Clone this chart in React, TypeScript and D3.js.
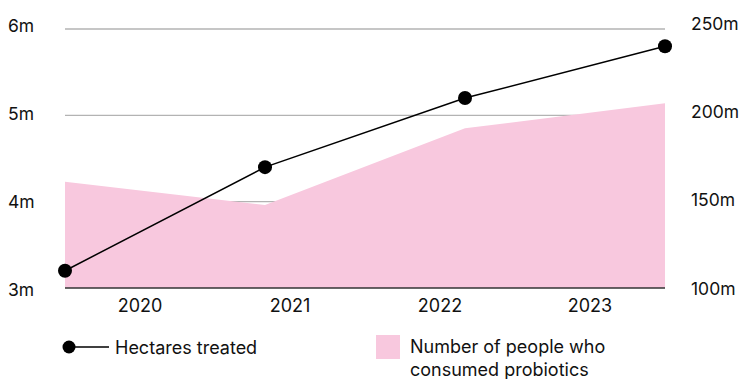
import React from "react";
import * as d3 from "d3";

const years = ["2020", "2021", "2022", "2023"];
const hectares = [3.2, 4.4, 5.2, 5.8]; // millions
const people = [161.5, 148, 192.5, 207]; // millions
const leftTicks = [3, 4, 5, 6];
const rightTicks = [100, 150, 200, 250];
const legendLine = "Hectares treated";
const legendArea = ["Number of people who", "consumed probiotics"];

const W = 741;
const H = 379;
const FONT = "Inter, 'Liberation Sans', Arial, sans-serif";
const PINK = "#f8c8de";

export default function App() {
  const x0 = 65, x1 = 665, yTop = 29, yBot = 288;
  const xPoint = d3.scalePoint<string>().domain(years).range([x0, x1]);
  const xBand = d3.scaleBand<string>().domain(years).range([x0, x1]);
  const yL = d3.scaleLinear().domain([3, 6]).range([yBot, yTop]);
  const yR = d3.scaleLinear().domain([100, 250]).range([yBot, yTop]);
  const yLLabel = d3.scaleLinear().domain([3, 6]).range([289, 25]);
  const yRLabel = d3.scaleLinear().domain([100, 250]).range([288, 23]);

  const area = d3
    .area<number>()
    .x((_, i) => xPoint(years[i])!)
    .y0(yBot)
    .y1((d) => yR(d));
  const line = d3
    .line<number>()
    .x((_, i) => xPoint(years[i])!)
    .y((d) => yL(d));

  return (
    <svg
      width={W}
      height={H}
      style={{ position: "absolute", left: 0, top: 0, display: "block" }}
      fontFamily={FONT}
    >
      <rect width={W} height={H} fill="#fff" />
      {leftTicks.slice(1).map((t) => (
        <line key={t} x1={x0} x2={x1} y1={yL(t)} y2={yL(t)} stroke="#b3b3b3" strokeWidth={1.3} />
      ))}
      <path d={area(people) ?? ""} fill={PINK} />
      <line x1={x0} x2={x1} y1={yBot} y2={yBot} stroke="#333" strokeWidth={1.5} />
      <path d={line(hectares) ?? ""} fill="none" stroke="#000" strokeWidth={1.5} />
      {hectares.map((v, i) => (
        <circle key={i} cx={xPoint(years[i])} cy={yL(v)} r={7} fill="#000" />
      ))}
      {leftTicks.map((t) => (
        <text key={t} x={8} y={yLLabel(t)} dominantBaseline="central" fontSize={17.5} fill="#111">
          {t}m
        </text>
      ))}
      {rightTicks.map((t) => (
        <text key={t} x={691} y={yRLabel(t)} dominantBaseline="central" fontSize={17.5} fill="#111">
          {t}m
        </text>
      ))}
      {years.map((y) => (
        <text
          key={y}
          x={xBand(y)! + xBand.bandwidth() / 2}
          y={305}
          textAnchor="middle"
          dominantBaseline="central"
          fontSize={18}
          fill="#111"
        >
          {y}
        </text>
      ))}
      <g>
        <line x1={69} x2={109} y1={347} y2={347} stroke="#000" strokeWidth={1.5} />
        <circle cx={69} cy={347} r={6.5} fill="#000" />
        <text x={115} y={347} dominantBaseline="central" fontSize={18} fill="#111">
          {legendLine}
        </text>
      </g>
      <g>
        <rect x={376} y={335} width={24} height={24} fill={PINK} />
        {legendArea.map((s, i) => (
          <text key={i} x={410} y={346 + i * 23} dominantBaseline="central" fontSize={18} fill="#111">
            {s}
          </text>
        ))}
      </g>
    </svg>
  );
}
